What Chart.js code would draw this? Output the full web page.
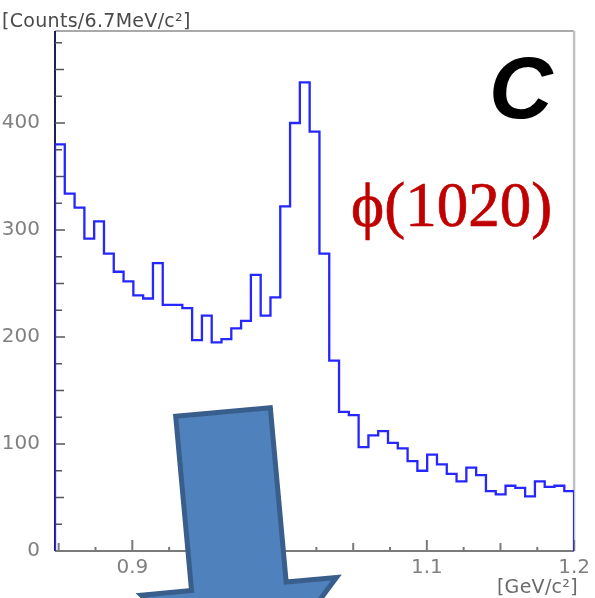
<!DOCTYPE html>
<html>
<head>
<meta charset="utf-8">
<script src="https://cdn.jsdelivr.net/npm/chart.js@4.4.1/dist/chart.umd.min.js"></script>
<style>
  html, body { margin: 0; padding: 0; background: #fff; }
  #wrap { position: relative; width: 595px; height: 598px; overflow: hidden; }
  #chart { position: absolute; left: 0; top: 0; }
  .txt { position: absolute; white-space: nowrap; line-height: 1; }
  #ytitle { left: 2px; top: 9px; font: 19px "DejaVu Sans", sans-serif; letter-spacing: 0.3px; color: #4a4a4a; }
  #xtitle { right: 17px; top: 575px; font: 19px "DejaVu Sans", sans-serif; letter-spacing: 0.3px; color: #6a6a6a; }
  #panel { left: 489px; top: 37px; font: italic bold 88px "Liberation Sans", Arial, sans-serif; color: #000; }
  #peak { left: 351px; top: 169px; font: 63px "Liberation Serif", "Times New Roman", serif; color: #c00000; -webkit-text-stroke: 0.7px #c00000; }
  #arrow { position: absolute; left: 0; top: 0; }
</style>
</head>
<body>
<div id="wrap">
  <canvas id="chart" width="595" height="598"></canvas>
  <div class="txt" id="ytitle">[Counts/6.7MeV/c²]</div>
  <div class="txt" id="xtitle">[GeV/c²]</div>
  <div class="txt" id="panel">C</div>
  <div class="txt" id="peak">ϕ(1020)</div>
  <svg id="arrow" width="595" height="598">
    <g transform="translate(223,412) rotate(-5.2)">
      <polygon points="-47.5,0 47.5,0 47.5,175 98,175 0,285 -98,175 -47.5,175"
               fill="#4f81bd" stroke="#3a5e8c" stroke-width="5" stroke-linejoin="miter"/>
    </g>
  </svg>
</div>
<script>
// K+K- invariant mass histogram, 53 bins of ~6.7 MeV
const xMin = 0.8475;
const xMax = 1.2;
const yMax = 486;

const counts = [
  380, 334, 321, 292, 308, 278, 261, 252, 239, 236,
  269, 230, 230, 227, 197, 220, 195, 198, 208, 215,
  258, 220, 237, 322, 400, 438, 392, 278, 178, 130,
  127, 97, 108, 112, 101, 96, 84, 75, 90, 81,
  72, 65, 78, 71, 56, 53, 61, 59, 51, 65,
  60, 61, 56
];

const xTickValues = [0.9, 1.0, 1.1, 1.2];
const xTickLabels = ["0.9", "1", "1.1", "1.2"];
const yTickValues = [0, 100, 200, 300, 400];

const binWidth = (xMax - xMin) / counts.length;
const points = [{ x: xMin, y: 0 }];
counts.forEach((c, i) => points.push({ x: xMin + i * binWidth, y: c }));
points.push({ x: xMax, y: 0 });

const labelFont = { family: "DejaVu Sans", size: 20 };

// ROOT-style frame: inward ticks with minor divisions
const rootAxes = {
  id: "rootAxes",
  beforeDatasetsDraw(chart) {
    const { ctx, chartArea: a, scales } = chart;
    const x = scales.x, y = scales.y;
    ctx.save();
    ctx.lineCap = "butt";

    ctx.strokeStyle = "#8c8c8c";
    ctx.lineWidth = 1.5;
    ctx.beginPath(); ctx.moveTo(a.left, a.top); ctx.lineTo(a.right, a.top); ctx.stroke();

    ctx.strokeStyle = "#c2c2c2";
    ctx.lineWidth = 2.5;
    ctx.beginPath(); ctx.moveTo(a.right, a.top); ctx.lineTo(a.right, a.bottom); ctx.stroke();

    ctx.strokeStyle = "#7a7a7a";
    ctx.lineWidth = 2;
    ctx.beginPath(); ctx.moveTo(a.left, a.bottom); ctx.lineTo(a.right, a.bottom); ctx.stroke();

    // x ticks every 0.025
    for (let k = 34; k <= 48; k++) {
      const px = x.getPixelForValue(k * 0.025);
      if (px < a.left - 0.5 || px > a.right + 0.5) continue;
      const len = k % 4 === 0 ? 11 : (k % 2 === 0 ? 8 : 4);
      ctx.beginPath(); ctx.moveTo(px, a.bottom); ctx.lineTo(px, a.bottom - len); ctx.stroke();
    }

    ctx.strokeStyle = "#1e1e5a";
    ctx.lineWidth = 2;
    ctx.beginPath(); ctx.moveTo(a.left, a.top); ctx.lineTo(a.left, a.bottom); ctx.stroke();

    // y ticks every 25
    ctx.strokeStyle = "#555";
    ctx.lineWidth = 1.5;
    for (let v = 25; v <= yMax; v += 25) {
      const py = y.getPixelForValue(v);
      const len = v % 100 === 0 ? 10 : (v % 50 === 0 ? 9 : 7);
      ctx.beginPath(); ctx.moveTo(a.left, py); ctx.lineTo(a.left + len, py); ctx.stroke();
    }
    ctx.restore();
  }
};

new Chart(document.getElementById("chart"), {
  type: "line",
  data: {
    datasets: [{
      data: points,
      stepped: "before",
      borderColor: "#2626ff",
      borderWidth: 2.3,
      pointRadius: 0,
      fill: false
    }]
  },
  options: {
    responsive: false,
    animation: false,
    layout: { padding: { top: 31, right: 20, left: 0, bottom: 0 } },
    plugins: { legend: { display: false }, tooltip: { enabled: false } },
    scales: {
      x: {
        type: "linear",
        min: xMin,
        max: xMax,
        grid: { display: false, drawTicks: false },
        border: { display: false },
        afterBuildTicks: (s) => { s.ticks = xTickValues.map((v) => ({ value: v })); },
        afterFit: (s) => { s.height = 47; },
        ticks: {
          autoSkip: false,
          maxRotation: 0,
          padding: 5,
          color: "#808080",
          font: labelFont,
          callback: (v) => xTickLabels[xTickValues.findIndex((t) => Math.abs(t - v) < 1e-6)]
        }
      },
      y: {
        min: 0,
        max: yMax,
        grid: { display: false, drawTicks: false },
        border: { display: false },
        afterBuildTicks: (s) => { s.ticks = yTickValues.map((v) => ({ value: v })); },
        afterFit: (s) => { s.width = 55; },
        ticks: {
          padding: 15,
          color: "#808080",
          font: labelFont
        }
      }
    }
  },
  plugins: [rootAxes]
});
</script>
</body>
</html>
